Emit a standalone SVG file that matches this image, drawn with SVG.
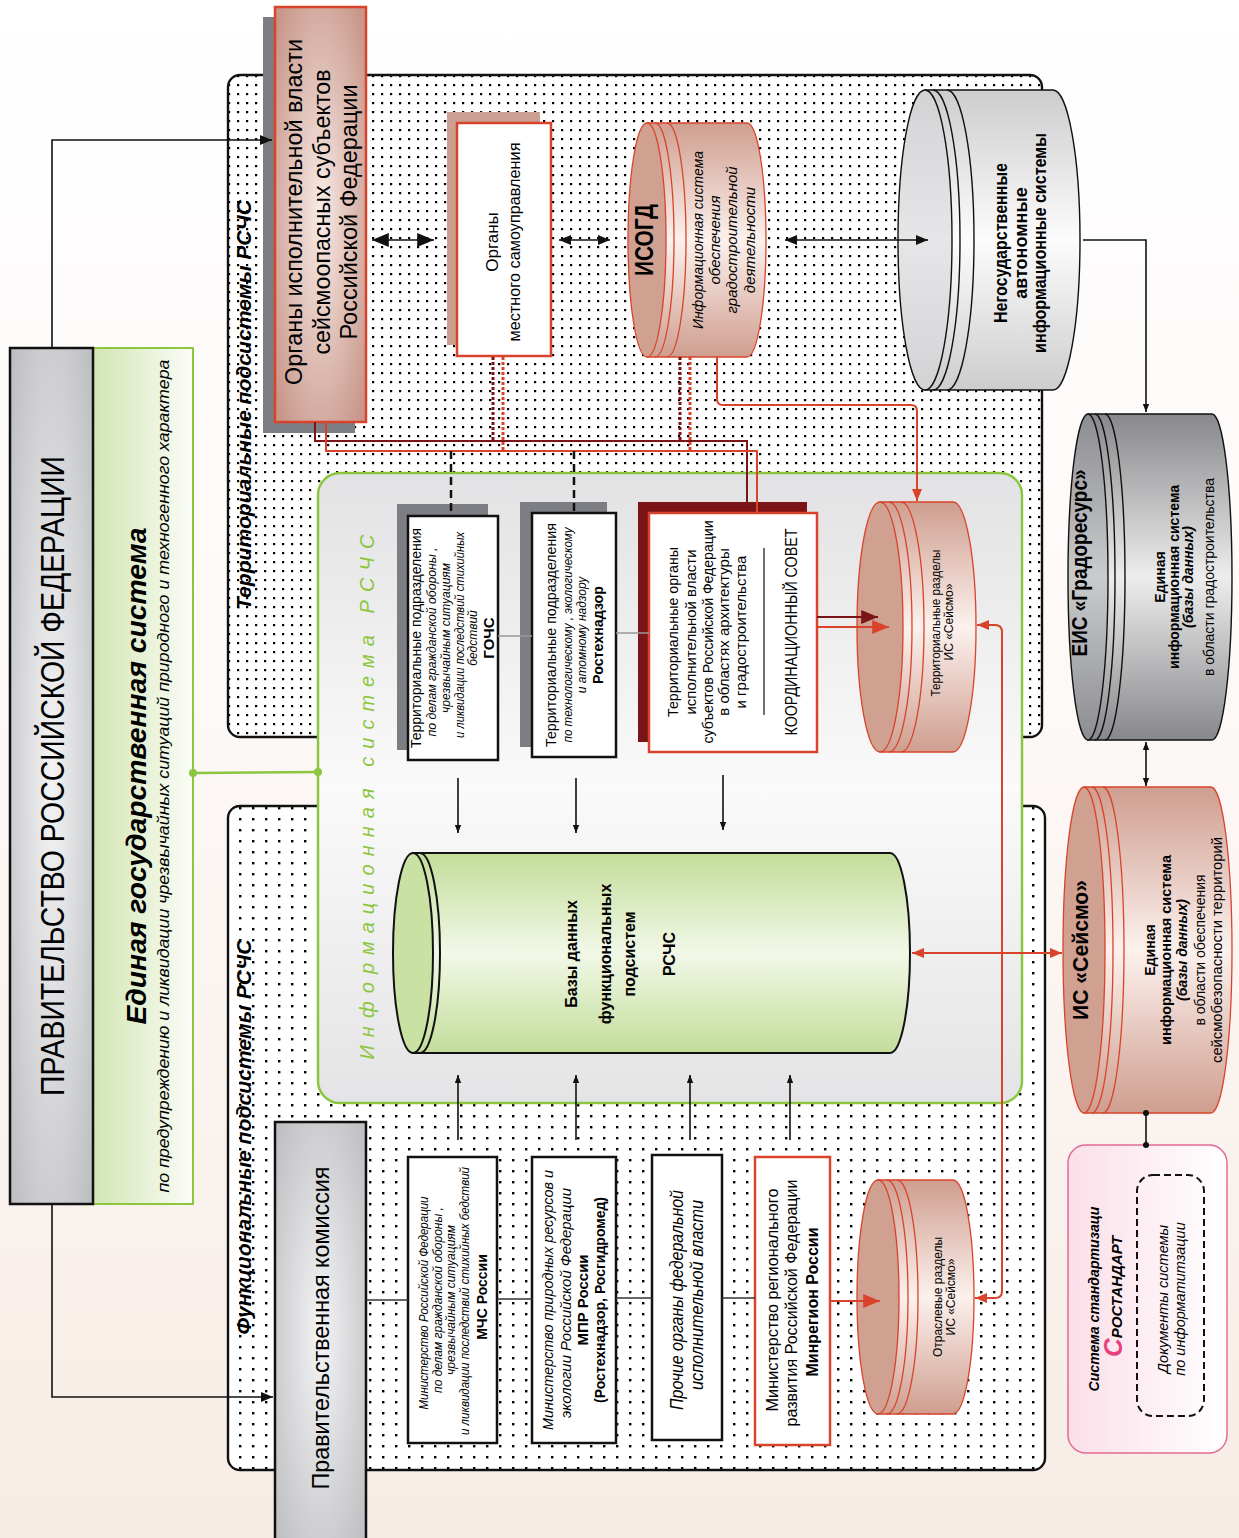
<svg xmlns="http://www.w3.org/2000/svg" width="1239" height="1538" viewBox="0 0 1239 1538">
<defs>
<style>
.f{font-family:"Liberation Sans",Arial,sans-serif;text-anchor:middle;fill:#000}
.b{font-weight:bold}
.i{font-style:italic}
.ln{fill:none;stroke:#111;stroke-width:1.6}
.rd{fill:none;stroke:#d9432b;stroke-width:2}
.dr{fill:none;stroke:#7b1416;stroke-width:2}
.ps{stroke:#d9432b;stroke-width:1.3}
.ks{stroke:#111;stroke-width:1.4}
.ring{fill:none}
</style>
<linearGradient id="gBg" x1="0" y1="0" x2="0" y2="1"><stop offset="0" stop-color="#ffffff"/><stop offset="0.45" stop-color="#fdf9f7"/><stop offset="1" stop-color="#f7ece5"/></linearGradient>
<radialGradient id="gGov" cx="0.5" cy="0.5" r="0.7"><stop offset="0" stop-color="#f4f4f5"/><stop offset="1" stop-color="#bcbdc0"/></radialGradient>
<linearGradient id="gGreenL" x1="0" y1="0" x2="1" y2="0"><stop offset="0" stop-color="#d2e5b3"/><stop offset="1" stop-color="#fbfdf7"/></linearGradient>
<linearGradient id="gInfo" x1="0" y1="0" x2="0" y2="1"><stop offset="0" stop-color="#e2e2e4"/><stop offset="0.5" stop-color="#fafafa"/><stop offset="1" stop-color="#e4e4e6"/></linearGradient>
<radialGradient id="gOrg" cx="0.5" cy="0.5" r="0.65"><stop offset="0" stop-color="#f8ebe6"/><stop offset="1" stop-color="#c8978a"/></radialGradient>
<linearGradient id="gPinkCyl" x1="0" y1="0" x2="0" y2="1"><stop offset="0" stop-color="#cf9e8f"/><stop offset="0.5" stop-color="#fcf1ed"/><stop offset="1" stop-color="#cf9e8f"/></linearGradient>
<linearGradient id="gGrayCyl" x1="0" y1="0" x2="0" y2="1"><stop offset="0" stop-color="#87888b"/><stop offset="0.5" stop-color="#ededed"/><stop offset="1" stop-color="#87888b"/></linearGradient>
<linearGradient id="gGrayFace" x1="0" y1="0" x2="0" y2="1"><stop offset="0" stop-color="#8c8d90"/><stop offset="0.5" stop-color="#cacbcd"/><stop offset="1" stop-color="#8c8d90"/></linearGradient>
<linearGradient id="gLightCyl" x1="0" y1="0" x2="0" y2="1"><stop offset="0" stop-color="#cdcdcf"/><stop offset="0.5" stop-color="#fcfcfc"/><stop offset="1" stop-color="#cdcdcf"/></linearGradient>
<linearGradient id="gLightFace" x1="0" y1="0" x2="0" y2="1"><stop offset="0" stop-color="#d3d3d5"/><stop offset="0.5" stop-color="#e6e6e8"/><stop offset="1" stop-color="#d3d3d5"/></linearGradient>
<linearGradient id="gGreenCyl" x1="0" y1="0" x2="0" y2="1"><stop offset="0" stop-color="#c3dd9a"/><stop offset="0.5" stop-color="#f2f8e7"/><stop offset="1" stop-color="#c3dd9a"/></linearGradient>
<linearGradient id="gPinkBox" x1="0" y1="0" x2="1" y2="0"><stop offset="0" stop-color="#fbdfe9"/><stop offset="1" stop-color="#ffffff"/></linearGradient>
<pattern id="dots1" width="9" height="9" patternUnits="userSpaceOnUse"><rect width="9" height="9" fill="#fff"/><rect x="3" y="3" width="2.2" height="2.2" fill="#000"/></pattern>
<pattern id="dots2" width="13" height="11" patternUnits="userSpaceOnUse"><rect width="13" height="11" fill="#fff"/><rect x="5" y="4" width="2.4" height="2.4" fill="#000"/></pattern>
<marker id="ab" viewBox="0 0 12 10" refX="12" refY="5" markerWidth="13" markerHeight="10" markerUnits="userSpaceOnUse" orient="auto-start-reverse"><path d="M0,0L12,5L0,10z" fill="#111"/></marker>
<marker id="abs" viewBox="0 0 10 8" refX="10" refY="4" markerWidth="8" markerHeight="7" markerUnits="userSpaceOnUse" orient="auto-start-reverse"><path d="M0,0L10,4L0,8z" fill="#111"/></marker>
<marker id="abl" viewBox="0 0 12 10" refX="12" refY="5" markerWidth="17" markerHeight="14" markerUnits="userSpaceOnUse" orient="auto-start-reverse"><path d="M0,0L12,5L0,10z" fill="#111"/></marker>
<marker id="ar" viewBox="0 0 12 10" refX="12" refY="5" markerWidth="12" markerHeight="10" markerUnits="userSpaceOnUse" orient="auto-start-reverse"><path d="M0,0L12,5L0,10z" fill="#d9432b"/></marker>
<marker id="arl" viewBox="0 0 12 10" refX="12" refY="5" markerWidth="20" markerHeight="14" markerUnits="userSpaceOnUse" orient="auto-start-reverse"><path d="M0,0L12,5L0,10z" fill="#d9432b"/></marker>
<marker id="adr" viewBox="0 0 12 10" refX="12" refY="5" markerWidth="20" markerHeight="14" markerUnits="userSpaceOnUse" orient="auto-start-reverse"><path d="M0,0L12,5L0,10z" fill="#7b1416"/></marker>
</defs>

<rect x="0" y="0" width="1239" height="1538" fill="url(#gBg)"/>

<g id="territorial-subsystems">
<rect x="228" y="75" width="814" height="662" rx="12" fill="url(#dots1)" stroke="#111" stroke-width="2.4"/>
<text class="f b i" transform="translate(243,405) rotate(-90)" y="8" font-size="20" textLength="410" lengthAdjust="spacingAndGlyphs">Территориальные подсистемы РСЧС</text>
</g>

<g id="functional-subsystems">
<rect x="228" y="806" width="817" height="664" rx="12" fill="url(#dots2)" stroke="#111" stroke-width="2.4"/>
<text class="f b i" transform="translate(243,1137) rotate(-90)" y="8" font-size="20" textLength="395" lengthAdjust="spacingAndGlyphs">Функциональные подсистемы РСЧС</text>
</g>

<g id="esys">
<rect x="93" y="348" width="100" height="856" fill="url(#gGreenL)" stroke="#8cc63f" stroke-width="2"/>
<g transform="translate(135,776) rotate(-90)">
<text class="f b i" y="11" font-size="27" textLength="497" lengthAdjust="spacingAndGlyphs">Единая государственная система</text>
<text class="f i" y="34" font-size="16.5" textLength="833" lengthAdjust="spacingAndGlyphs">по предупреждению и ликвидации чрезвычайных ситуаций природного и техногенного характера</text>
</g>
</g>

<g id="gov">
<rect x="10" y="348" width="83" height="856" fill="url(#gGov)" stroke="#111" stroke-width="2.5"/>
<text class="f" transform="translate(52,776) rotate(-90)" y="12" font-size="33" textLength="640" lengthAdjust="spacingAndGlyphs">ПРАВИТЕЛЬСТВО РОССИЙСКОЙ ФЕДЕРАЦИИ</text>
</g>

<g id="info-system">
<rect x="318" y="473" width="704" height="630" rx="22" fill="url(#gInfo)" stroke="#8cc63f" stroke-width="2.5"/>
<text class="f i" transform="translate(367,797) rotate(-90)" y="7" font-size="20" style="fill:#8cc63f" textLength="525" lengthAdjust="spacing">Информационная система РСЧС</text>
</g>

<g id="org-exec">
<rect x="263" y="17" width="92" height="416" fill="#7d7e83"/>
<rect x="275" y="7" width="91" height="415" fill="url(#gOrg)" stroke="#d9432b" stroke-width="2.5"/>
<g transform="translate(320,212) rotate(-90)" font-size="24">
<text class="f" y="-18" textLength="346" lengthAdjust="spacingAndGlyphs">Органы исполнительной власти</text>
<text class="f" y="9.5" textLength="285" lengthAdjust="spacingAndGlyphs">сейсмоопасных субъектов</text>
<text class="f" y="37" textLength="255" lengthAdjust="spacingAndGlyphs">Российской Федерации</text>
</g>
</g>

<g id="org-local">
<rect x="447" y="112" width="93" height="233" fill="#c9a092"/>
<rect x="457" y="123" width="94" height="233" fill="#fff" stroke="#d9432b" stroke-width="2.5"/>
<g transform="translate(505,242) rotate(-90)" font-size="17">
<text class="f" y="-7">Органы</text>
<text class="f" y="15" textLength="199" lengthAdjust="spacingAndGlyphs">местного самоуправления</text>
</g>
</g>

<g id="isogd">
<path d="M647,123 H747 A19,117 0 0 1 747,357 H647 Z" fill="url(#gPinkCyl)" class="ps"/>
<ellipse cx="647" cy="240" rx="19" ry="117" fill="#d0a091" class="ps"/>
<path class="ring ps" d="M655,123 A19,117 0 0 1 655,357 M667,123 A19,117 0 0 1 667,357"/>
<g transform="translate(700,240) rotate(-90)">
<text class="f b" y="-47" font-size="26" textLength="72" lengthAdjust="spacingAndGlyphs">ИСОГД</text>
<text class="f i" y="3" font-size="15" textLength="178" lengthAdjust="spacingAndGlyphs">Информационная система</text>
<text class="f i" y="20" font-size="15">обеспечения</text>
<text class="f i" y="37" font-size="15">градостроительной</text>
<text class="f i" y="55" font-size="15">деятельности</text>
</g>
</g>

<g id="nongov">
<path d="M925,90 H1053 A27,150 0 0 1 1053,390 H925 Z" fill="url(#gLightCyl)" class="ks"/>
<ellipse cx="925" cy="240" rx="27" ry="150" fill="url(#gLightFace)" class="ks"/>
<path class="ring ks" d="M933,90 A27,150 0 0 1 933,390 M947,90 A27,150 0 0 1 947,390"/>
<g transform="translate(1020,243) rotate(-90)" font-size="18">
<text class="f b" y="-13" textLength="160" lengthAdjust="spacingAndGlyphs">Негосударственные</text>
<text class="f b" y="7">автономные</text>
<text class="f b" y="26" textLength="220" lengthAdjust="spacingAndGlyphs">информационные системы</text>
</g>
</g>

<g id="eis-gradoresurs">
<path d="M1088,414 H1212 A20,163 0 0 1 1212,740 H1088 Z" fill="url(#gGrayCyl)" class="ks"/>
<ellipse cx="1088" cy="577" rx="20" ry="163" fill="url(#gGrayFace)" class="ks"/>
<path class="ring ks" d="M1095,414 A20,163 0 0 1 1095,740 M1105,414 A20,163 0 0 1 1105,740"/>
<g transform="translate(1150,577) rotate(-90)" font-size="14">
<text class="f b" x="14" y="-63" font-size="22" textLength="187" lengthAdjust="spacingAndGlyphs">ЕИС «Градоресурс»</text>
<text class="f b" y="15">Единая</text>
<text class="f b" y="29" textLength="184" lengthAdjust="spacingAndGlyphs">информационная система</text>
<text class="f b i" y="43">(базы данных)</text>
<text class="f" y="64" textLength="198" lengthAdjust="spacingAndGlyphs">в области градостроительства</text>
</g>
</g>

<g id="is-seismo">
<path d="M1084,787 H1211 A21,163 0 0 1 1211,1113 H1084 Z" fill="url(#gPinkCyl)" class="ps"/>
<ellipse cx="1084" cy="950" rx="21" ry="163" fill="#d0a091" class="ps"/>
<path class="ring ps" d="M1092,787 A21,163 0 0 1 1092,1113 M1103,787 A21,163 0 0 1 1103,1113"/>
<g transform="translate(1150,950) rotate(-90)" font-size="14">
<text class="f b" y="-62" font-size="22" textLength="140" lengthAdjust="spacingAndGlyphs">ИС «Сейсмо»</text>
<text class="f b" y="5">Единая</text>
<text class="f b" y="21" textLength="190" lengthAdjust="spacingAndGlyphs">информационная система</text>
<text class="f b i" y="37">(базы данных)</text>
<text class="f" y="55">в области обеспечения</text>
<text class="f" y="72" textLength="226" lengthAdjust="spacingAndGlyphs">сейсмобезопасности территорий</text>
</g>
</g>

<g id="rostandart">
<rect x="1068" y="1145" width="159" height="308" rx="18" fill="url(#gPinkBox)" stroke="#e36b93" stroke-width="1.5"/>
<rect x="1137" y="1175" width="67" height="241" rx="16" fill="none" stroke="#111" stroke-width="2" stroke-dasharray="7 4"/>
<g transform="translate(1148,1299) rotate(-90)">
<text class="f b i" y="-49" font-size="14" textLength="185" lengthAdjust="spacingAndGlyphs">Система стандартизаци</text>
<text class="f b i" x="-58" y="-26" style="text-anchor:start"><tspan font-size="26" style="fill:#e8417d">С</tspan><tspan font-size="15">РОСТАНДАРТ</tspan></text>
<text class="f i" y="20" font-size="14.5">Документы системы</text>
<text class="f i" y="37" font-size="14.5">по информатитзации</text>
</g>
</g>

<g id="gochs">
<rect x="397" y="504" width="91" height="246" fill="#7d7e83"/>
<rect x="408" y="516" width="90" height="244" fill="#fff" stroke="#111" stroke-width="2.5"/>
<g transform="translate(453,638) rotate(-90)">
<text class="f" y="-32" font-size="14.5" textLength="220" lengthAdjust="spacingAndGlyphs">Территориальные подразделения</text>
<text class="f i" x="-4" y="-17" font-size="12" textLength="189" lengthAdjust="spacingAndGlyphs">по делам гражданской обороны ,</text>
<text class="f i" y="-3" font-size="12">чрезвычайным ситуациям</text>
<text class="f i" x="3" y="11" font-size="12" textLength="206" lengthAdjust="spacingAndGlyphs">и ликвидации последствий стихийных</text>
<text class="f i" y="24" font-size="12">бедствий</text>
<text class="f b" y="41" font-size="15">ГОЧС</text>
</g>
</g>

<g id="rostekhnadzor">
<rect x="520" y="502" width="87" height="245" fill="#7d7e83"/>
<rect x="532" y="513" width="84" height="244" fill="#fff" stroke="#111" stroke-width="2.5"/>
<g transform="translate(574,635) rotate(-90)">
<text class="f" y="-18" font-size="14.5" textLength="224" lengthAdjust="spacingAndGlyphs">Территориальные подразделения</text>
<text class="f i" y="-2" font-size="12" textLength="215" lengthAdjust="spacingAndGlyphs">по технологическому , экологическому</text>
<text class="f i" y="12" font-size="12">и атомному надзору</text>
<text class="f b" y="29" font-size="15" textLength="98" lengthAdjust="spacingAndGlyphs">Ростехнадзор</text>
</g>
</g>

<g id="terr-organs">
<rect x="638" y="502" width="169" height="240" fill="#7b1416"/>
<rect x="649" y="513" width="168" height="239" fill="#fff" stroke="#d9432b" stroke-width="2.5"/>
<line x1="764" y1="548" x2="764" y2="715" stroke="#111" stroke-width="1.2"/>
<g transform="translate(733,632) rotate(-90)" font-size="15">
<text class="f" y="-55" textLength="170" lengthAdjust="spacingAndGlyphs">Территориальные органы</text>
<text class="f" y="-37">исполнительной власти</text>
<text class="f" y="-20" textLength="223" lengthAdjust="spacingAndGlyphs">субъектов Российской Федерации</text>
<text class="f" y="-4">в областях архитектуры</text>
<text class="f" y="13">и градостроительства</text>
<text class="f" y="64" font-size="16" textLength="207" lengthAdjust="spacingAndGlyphs">КООРДИНАЦИОННЫЙ СОВЕТ</text>
</g>
</g>

<g id="terr-sections">
<path d="M880,502 H953 A23,125 0 0 1 953,752 H880 Z" fill="url(#gPinkCyl)" class="ps"/>
<ellipse cx="880" cy="627" rx="23" ry="125" fill="#d0a091" class="ps"/>
<path class="ring ps" d="M889,502 A23,125 0 0 1 889,752 M901,502 A23,125 0 0 1 901,752"/>
<g transform="translate(943,627) rotate(-90)" font-size="12">
<text class="f" x="4" y="-3" textLength="147" lengthAdjust="spacingAndGlyphs">Территориальные разделы</text>
<text class="f" x="5" y="10">ИС «Сейсмо»</text>
</g>
</g>

<g id="bases">
<path d="M413,853 H890 A20,100 0 0 1 890,1053 H413 Z" fill="url(#gGreenCyl)" stroke="#111" stroke-width="2"/>
<ellipse cx="413" cy="953" rx="20" ry="100" fill="#c9e2a4" stroke="#111" stroke-width="2"/>
<path d="M420,853 A20,100 0 0 1 420,1053" fill="none" stroke="#111" stroke-width="2"/>
<g transform="translate(615,954) rotate(-90)" font-size="16">
<text class="f b" y="-38">Базы данных</text>
<text class="f b" y="-4">функциональных</text>
<text class="f b" y="20">подсистем</text>
<text class="f b" y="60">РСЧС</text>
</g>
</g>

<g id="commission">
<rect x="275" y="1122" width="91" height="425" fill="url(#gGov)" stroke="#111" stroke-width="2.5"/>
<text class="f" transform="translate(320,1328) rotate(-90)" y="9" font-size="24" textLength="323" lengthAdjust="spacingAndGlyphs">Правительственная комиссия</text>
</g>

<g id="mchs">
<rect x="408" y="1157" width="89" height="286" fill="#fff" stroke="#111" stroke-width="2.5"/>
<g transform="translate(452,1300) rotate(-90)" font-size="12">
<text class="f i" x="-3" y="-24" textLength="213" lengthAdjust="spacingAndGlyphs">Министерство Российской Федерации</text>
<text class="f i" y="-10">по делам гражданской обороны ,</text>
<text class="f i" y="3">чрезвычайным ситуациям</text>
<text class="f i" x="-1" y="17" textLength="268" lengthAdjust="spacingAndGlyphs">и ликвидации последствий стихийных бедствий</text>
<text class="f b" x="3" y="35" font-size="14">МЧС России</text>
</g>
</g>

<g id="mpr">
<rect x="532" y="1157" width="84" height="286" fill="#fff" stroke="#111" stroke-width="2.5"/>
<g transform="translate(574,1300) rotate(-90)" font-size="15">
<text class="f i" y="-21" textLength="260" lengthAdjust="spacingAndGlyphs">Министерство природных ресурсов и</text>
<text class="f i" x="-3" y="-3" textLength="230" lengthAdjust="spacingAndGlyphs">экологии Российской Федерации</text>
<text class="f b" y="14">МПР России</text>
<text class="f b" y="31" textLength="206" lengthAdjust="spacingAndGlyphs">(Ростехнадзор, Росгидромед)</text>
</g>
</g>

<g id="other-federal">
<rect x="652" y="1155" width="70" height="285" fill="#fff" stroke="#111" stroke-width="2.5"/>
<g transform="translate(687,1300) rotate(-90)" font-size="18">
<text class="f i" y="-4" textLength="220" lengthAdjust="spacingAndGlyphs">Прочие органы федеральной</text>
<text class="f i" x="5" y="16" textLength="190" lengthAdjust="spacingAndGlyphs">исполнительной власти</text>
</g>
</g>

<g id="minregion">
<rect x="755" y="1157" width="75" height="288" fill="#fff" stroke="#d9432b" stroke-width="2.5"/>
<g transform="translate(792,1300) rotate(-90)" font-size="17">
<text class="f" y="-14" textLength="223" lengthAdjust="spacingAndGlyphs">Министерство регионального</text>
<text class="f" x="-3" y="5" textLength="247" lengthAdjust="spacingAndGlyphs">развития Российской Федерации</text>
<text class="f b" x="-2" y="26" textLength="149" lengthAdjust="spacingAndGlyphs">Минрегион России</text>
</g>
</g>

<g id="branch-sections">
<path d="M878,1180 H953 A21,117 0 0 1 953,1414 H878 Z" fill="url(#gPinkCyl)" class="ps"/>
<ellipse cx="878" cy="1297" rx="21" ry="117" fill="#d0a091" class="ps"/>
<path class="ring ps" d="M887,1180 A21,117 0 0 1 887,1414 M897,1180 A21,117 0 0 1 897,1414"/>
<g transform="translate(943,1297) rotate(-90)" font-size="12">
<text class="f" y="-1">Отраслевые разделы</text>
<text class="f" y="12">ИС «Сейсмо»</text>
</g>
</g>

<g id="connectors">
<path class="ln" d="M52,348 V140 H272" stroke-width="2" marker-end="url(#ab)"/>
<path class="ln" d="M52,1204 V1397 H273" stroke-width="2" marker-end="url(#ab)"/>
<path d="M193,773 L318,772" stroke="#8cc63f" stroke-width="2.5" fill="none"/>
<circle cx="193" cy="773" r="4" fill="#8cc63f"/>
<circle cx="318" cy="772" r="4" fill="#8cc63f"/>
<line class="ln" x1="372" y1="240" x2="434" y2="240" stroke-width="3" marker-start="url(#abl)" marker-end="url(#abl)"/>
<line class="ln" x1="559" y1="240" x2="610" y2="240" marker-start="url(#ab)" marker-end="url(#ab)"/>
<line class="ln" x1="785" y1="240" x2="928" y2="240" marker-start="url(#ab)" marker-end="url(#ab)"/>
<path class="ln" d="M1083,240 H1146 V412" stroke-width="1.3" marker-end="url(#abs)"/>
<line class="ln" x1="1146" y1="742" x2="1146" y2="786" stroke-width="1.3" marker-start="url(#abs)" marker-end="url(#abs)"/>
<line class="ln" x1="1146" y1="1113" x2="1146" y2="1145" stroke-width="1.3"/>
<circle cx="1146" cy="1113" r="3" fill="#111"/>
<circle cx="1146" cy="1145" r="3" fill="#111"/>
<line class="rd" x1="912" y1="953" x2="1062" y2="953" stroke-width="1.8" marker-start="url(#ar)" marker-end="url(#ar)"/>
<line class="ln" x1="458" y1="778" x2="458" y2="833" stroke-width="1.2" marker-end="url(#abs)"/>
<line class="ln" x1="576" y1="778" x2="576" y2="833" stroke-width="1.2" marker-end="url(#abs)"/>
<line class="ln" x1="723" y1="775" x2="723" y2="830" stroke-width="1.2" marker-end="url(#abs)"/>
<line class="ln" x1="458" y1="1140" x2="458" y2="1075" stroke-width="1.2" marker-end="url(#abs)"/>
<line class="ln" x1="576" y1="1140" x2="576" y2="1075" stroke-width="1.2" marker-end="url(#abs)"/>
<line class="ln" x1="690" y1="1140" x2="690" y2="1075" stroke-width="1.2" marker-end="url(#abs)"/>
<line class="ln" x1="790" y1="1140" x2="790" y2="1075" stroke-width="1.2" marker-end="url(#abs)"/>
<path class="dr" d="M315,422 V441 H747 V502" stroke-width="2.2"/>
<path class="rd" d="M326,422 V451 H757 V513" stroke-width="2.2"/>
<line x1="493" y1="357" x2="493" y2="441" stroke="#7b1416" stroke-width="3" stroke-dasharray="3 2"/>
<line x1="503" y1="357" x2="503" y2="451" stroke="#d9432b" stroke-width="3" stroke-dasharray="3 2"/>
<line x1="680" y1="357" x2="680" y2="441" stroke="#7b1416" stroke-width="3" stroke-dasharray="3 2"/>
<line x1="690" y1="357" x2="690" y2="451" stroke="#d9432b" stroke-width="3" stroke-dasharray="3 2"/>
<line x1="451" y1="451" x2="451" y2="516" stroke="#111" stroke-width="2.5" stroke-dasharray="8 5"/>
<line x1="574" y1="451" x2="574" y2="513" stroke="#111" stroke-width="2.5" stroke-dasharray="8 5"/>
<path class="rd" d="M717,357 V399 Q717,405 723,405 H911 Q917,405 917,411 V501" stroke-width="1.3" marker-end="url(#ar)"/>
<line class="dr" x1="817" y1="617" x2="878" y2="617" stroke-width="2.5" marker-end="url(#adr)"/>
<line class="rd" x1="817" y1="627" x2="889" y2="627" stroke-width="2.5" marker-end="url(#arl)"/>
<path class="rd" d="M977,625 H995 Q1002,625 1002,632 V1291 Q1002,1298 995,1298 H975" stroke-width="1.3" marker-start="url(#ar)" marker-end="url(#ar)"/>
<line class="rd" x1="830" y1="1301" x2="880" y2="1301" stroke-width="2.5" marker-end="url(#arl)"/>
<line x1="498" y1="636" x2="532" y2="636" stroke="#999" stroke-width="1.5"/>
<line x1="616" y1="633" x2="649" y2="633" stroke="#999" stroke-width="1.5"/>
<line x1="366" y1="1300" x2="408" y2="1300" stroke="#333" stroke-width="1.5"/>
<line x1="497" y1="1299" x2="532" y2="1299" stroke="#333" stroke-width="1.5"/>
<line x1="616" y1="1298" x2="652" y2="1298" stroke="#333" stroke-width="1.5"/>
<line x1="722" y1="1298" x2="755" y2="1298" stroke="#333" stroke-width="1.5"/>
</g>
</svg>
